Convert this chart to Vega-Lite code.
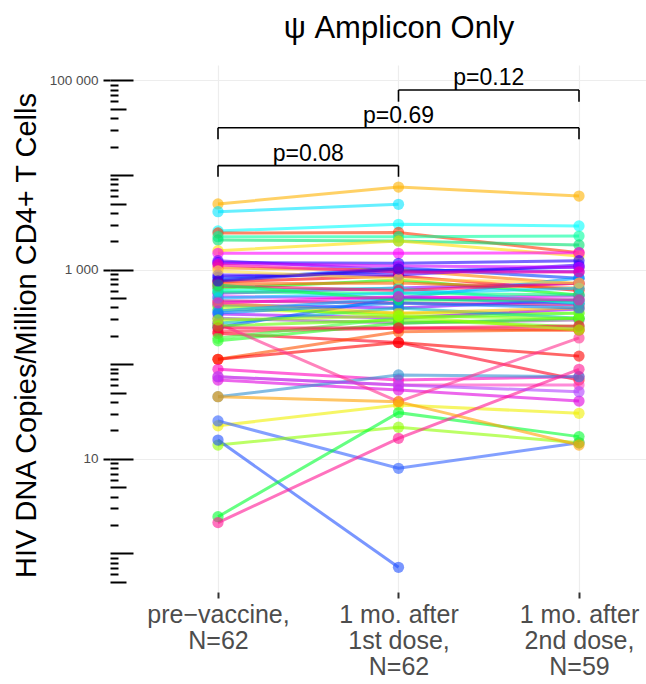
{
"$schema": "https://vega.github.io/schema/vega-lite/v6.json",
"width": 536, "height": 527,
"autosize": {"type": "none"},
"padding": {"left": 110, "top": 65, "right": 0, "bottom": 92},
"background": "white",
"config": {"view": {"stroke": null}, "font": "Liberation Sans"},
"title": {"text": "ψ Amplicon Only", "fontSize": 31, "font": "Liberation Sans", "fontWeight": "normal", "color": "#000000", "anchor": "middle", "frame": "group", "dx": 21, "dy": 31, "offset": 27, "baseline": "alphabetic"},
"data": {"values": [
{"id":"S01","t":0,"v":4950},{"id":"S01","t":1,"v":7480},{"id":"S01","t":2,"v":6010},
{"id":"S02","t":0,"v":4100},{"id":"S02","t":1,"v":4910},
{"id":"S03","t":0,"v":2564},{"id":"S03","t":1,"v":3020},{"id":"S03","t":2,"v":2897},
{"id":"S04","t":0,"v":2443},{"id":"S04","t":1,"v":2472},{"id":"S04","t":2,"v":1514},
{"id":"S05","t":0,"v":2233},{"id":"S05","t":1,"v":2233},{"id":"S05","t":2,"v":2270},
{"id":"S06","t":0,"v":2061},{"id":"S06","t":1,"v":2011},{"id":"S06","t":2,"v":1824},
{"id":"S07","t":0,"v":1588},{"id":"S07","t":1,"v":2011},{"id":"S07","t":2,"v":1396},
{"id":"S08","t":0,"v":1490},{"id":"S08","t":1,"v":1490},{"id":"S08","t":2,"v":1514},
{"id":"S09","t":0,"v":1245},{"id":"S09","t":1,"v":993},{"id":"S09","t":2,"v":953},
{"id":"S10","t":0,"v":1186},{"id":"S10","t":1,"v":1169},{"id":"S10","t":2,"v":1245},
{"id":"S11","t":0,"v":1042},{"id":"S11","t":1,"v":993},{"id":"S11","t":2,"v":706},
{"id":"S12","t":0,"v":831},{"id":"S12","t":1,"v":953},{"id":"S12","t":2,"v":1069},
{"id":"S13","t":0,"v":778},{"id":"S13","t":1,"v":1050},{"id":"S13","t":2,"v":811},
{"id":"S14","t":0,"v":741},{"id":"S14","t":1,"v":858},{"id":"S14","t":2,"v":603},
{"id":"S15","t":0,"v":636},{"id":"S15","t":1,"v":778},{"id":"S15","t":2,"v":540},
{"id":"S16","t":0,"v":563},{"id":"S16","t":1,"v":641},{"id":"S16","t":2,"v":718},
{"id":"S17","t":0,"v":519},{"id":"S17","t":1,"v":502},{"id":"S17","t":2,"v":527},
{"id":"S18","t":0,"v":470},{"id":"S18","t":1,"v":445},{"id":"S18","t":2,"v":424},
{"id":"S19","t":0,"v":424},{"id":"S19","t":1,"v":394},{"id":"S19","t":2,"v":479},
{"id":"S20","t":0,"v":381},{"id":"S20","t":1,"v":346},{"id":"S20","t":2,"v":346},
{"id":"S21","t":0,"v":340},{"id":"S21","t":1,"v":308},{"id":"S21","t":2,"v":384},
{"id":"S22","t":0,"v":306},{"id":"S22","t":1,"v":273},{"id":"S22","t":2,"v":294},
{"id":"S23","t":0,"v":271},{"id":"S23","t":1,"v":394},{"id":"S23","t":2,"v":306},
{"id":"S24","t":0,"v":246},{"id":"S24","t":1,"v":502},{"id":"S24","t":2,"v":441},
{"id":"S25","t":0,"v":221},{"id":"S25","t":1,"v":240},{"id":"S25","t":2,"v":231},
{"id":"S26","t":0,"v":212},{"id":"S26","t":1,"v":170},{"id":"S26","t":2,"v":68.2},
{"id":"S27","t":0,"v":177},{"id":"S27","t":1,"v":271},{"id":"S27","t":2,"v":306},
{"id":"S28","t":0,"v":188},{"id":"S28","t":1,"v":308},{"id":"S28","t":2,"v":348},
{"id":"S29","t":0,"v":113},{"id":"S29","t":1,"v":221},{"id":"S29","t":2,"v":231},
{"id":"S30","t":0,"v":113},{"id":"S30","t":1,"v":170},{"id":"S30","t":2,"v":122},
{"id":"S31","t":0,"v":88.5},{"id":"S31","t":1,"v":68.2},{"id":"S31","t":2,"v":74},
{"id":"S32","t":0,"v":74},{"id":"S32","t":1,"v":60.4},{"id":"S32","t":2,"v":60.4},
{"id":"S33","t":0,"v":68.2},{"id":"S33","t":1,"v":53.5},{"id":"S33","t":2,"v":40.9},
{"id":"S34","t":0,"v":45.4},{"id":"S34","t":1,"v":77.1},{"id":"S34","t":2,"v":74},
{"id":"S35","t":0,"v":270},{"id":"S35","t":1,"v":40.3},{"id":"S35","t":2,"v":190},
{"id":"S36","t":0,"v":22.4},{"id":"S36","t":1,"v":37.2},{"id":"S36","t":2,"v":30.3},
{"id":"S37","t":0,"v":25.2},{"id":"S37","t":1,"v":7.96},{"id":"S37","t":2,"v":14.8},
{"id":"S38","t":0,"v":14.0},{"id":"S38","t":1,"v":21.6},{"id":"S38","t":2,"v":14.8},
{"id":"S39","t":0,"v":15.8},{"id":"S39","t":1,"v":0.714},
{"id":"S40","t":0,"v":2.45},{"id":"S40","t":1,"v":30.8},{"id":"S40","t":2,"v":17.2},
{"id":"S41","t":0,"v":2.12},{"id":"S41","t":1,"v":16.5},{"id":"S41","t":2,"v":88.5},
{"id":"S42","t":0,"v":45.4},{"id":"S42","t":1,"v":40.3},{"id":"S42","t":2,"v":14.0},
{"id":"S43","t":0,"v":74},{"id":"S43","t":1,"v":60.4},{"id":"S43","t":2,"v":51.3},
{"id":"S44","t":0,"v":706},{"id":"S44","t":1,"v":723},{"id":"S44","t":2,"v":636},
{"id":"S45","t":0,"v":603},{"id":"S45","t":1,"v":636},{"id":"S45","t":2,"v":441},
{"id":"S46","t":0,"v":879},{"id":"S46","t":1,"v":879},{"id":"S46","t":2,"v":1122},
{"id":"S47","t":0,"v":445},{"id":"S47","t":1,"v":346},{"id":"S47","t":2,"v":394},
{"id":"S48","t":0,"v":413},{"id":"S48","t":1,"v":324},{"id":"S48","t":2,"v":306},
{"id":"S49","t":0,"v":366},{"id":"S49","t":1,"v":502},{"id":"S49","t":2,"v":817},
{"id":"S50","t":0,"v":673},{"id":"S50","t":1,"v":603},{"id":"S50","t":2,"v":718},
{"id":"S51","t":0,"v":581},{"id":"S51","t":1,"v":563},{"id":"S51","t":2,"v":540},
{"id":"S52","t":0,"v":1169},{"id":"S52","t":1,"v":1094},{"id":"S52","t":2,"v":1059},
{"id":"S53","t":0,"v":348},{"id":"S53","t":1,"v":445},{"id":"S53","t":2,"v":394},
{"id":"S54","t":0,"v":254},{"id":"S54","t":1,"v":294},{"id":"S54","t":2,"v":250},
{"id":"S55","t":0,"v":242},{"id":"S55","t":1,"v":242},{"id":"S55","t":2,"v":254},
{"id":"S56","t":0,"v":502},{"id":"S56","t":1,"v":563},{"id":"S56","t":2,"v":636},
{"id":"S57","t":0,"v":1122},{"id":"S57","t":1,"v":946},{"id":"S57","t":2,"v":946},
{"id":"S58","t":0,"v":294},{"id":"S58","t":1,"v":324},{"id":"S58","t":2,"v":231},
{"id":"S59","t":0,"v":969},{"id":"S59","t":1,"v":798},{"id":"S59","t":2,"v":723},
{"id":"S60","t":0,"v":690},{"id":"S60","t":1,"v":479},{"id":"S60","t":2,"v":479},
{"id":"S61","t":0,"v":760},{"id":"S61","t":1,"v":1016},
{"id":"S62","t":0,"v":445},{"id":"S62","t":1,"v":519},{"id":"S62","t":2,"v":479}
]},
"layer": [
{
"mark": {"type": "line", "strokeWidth": 3, "opacity": 0.6},
"encoding": {
"x": {"field": "t", "type": "quantitative", "scale": {"domain": [-0.5983, 2.3712], "nice": false, "zero": false},
"axis": {"values": [0, 1, 2], "labelExpr": "datum.value == 0 ? ['pre−vaccine,', 'N=62'] : datum.value == 1 ? ['1 mo. after', '1st dose,', 'N=62'] : ['1 mo. after', '2nd dose,', 'N=59']", "labelFontSize": 25, "labelColor": "#4D4D4D", "labelLineHeight": 26, "labelPadding": 4, "labelOverlap": false, "labelFlush": false, "tickSize": 6, "tickColor": "#333333", "tickWidth": 2, "domain": false, "grid": true, "gridColor": "#EDEDED", "gridWidth": 1.2, "title": null}},
"y": {"field": "v", "type": "quantitative", "scale": {"type": "log", "domain": [0.3917, 145800], "nice": false},
"axis": {"orient": "left", "values": [10, 1000, 100000], "labelExpr": "datum.value == 100000 ? '100 000' : datum.value == 1000 ? '1 000' : '10'", "labelFontSize": 13.5, "labelColor": "#4D4D4D", "labelPadding": 5, "tickSize": 7, "tickColor": "#000000", "tickWidth": 2, "domain": false, "grid": true, "gridColor": "#EDEDED", "gridWidth": 1.2, "title": "HIV DNA Copies/Million CD4+ T Cells", "titleFontSize": 29, "titleFontWeight": "normal", "titleColor": "#000000", "titlePadding": 8, "titleY": 270}},
"color": {"field": "id", "type": "nominal", "legend": null, "scale": {
"domain": ["S01","S02","S03","S04","S05","S06","S07","S08","S09","S10","S11","S12","S13","S14","S15","S16","S17","S18","S19","S20","S21","S22","S23","S24","S25","S26","S27","S28","S29","S30","S31","S32","S33","S34","S35","S36","S37","S38","S39","S40","S41","S42","S43","S44","S45","S46","S47","S48","S49","S50","S51","S52","S53","S54","S55","S56","S57","S58","S59","S60","S61","S62"],
"range": ["#FFB300","#00E5FF","#00FFFF","#FF3300","#00FFA0","#00E070","#FFE000","#FF00FF","#6A00FF","#2000FF","#FF8000","#0000FF","#0040FF","#FF0000","#00FF00","#9000FF","#E000FF","#C00080","#8000FF","#C0FF00","#A000FF","#9060A0","#00C0C0","#0060FF","#FF2040","#FF0020","#20FF20","#40FF40","#FF5000","#FF0000","#FF00C0","#FF40C0","#E000E0","#3090D0","#FF3090","#F0F000","#3060FF","#90FF00","#2050FF","#00FF30","#FF1493","#FFA000","#B040FF","#FF6000","#00FFD0","#4000FF","#FFC000","#80FF00","#00A0FF","#FF0060","#00FF80","#D000FF","#0080FF","#60FF00","#FF0040","#00D0FF","#FF00A0","#A0FF00","#FFE040","#00FF50","#3000E0","#FF00D0"]}}
}
},
{
"mark": {"type": "circle", "size": 127, "opacity": 0.6},
"encoding": {
"x": {"field": "t", "type": "quantitative", "scale": {"domain": [-0.5983, 2.3712], "nice": false, "zero": false}, "axis": null},
"y": {"field": "v", "type": "quantitative", "scale": {"type": "log", "domain": [0.3917, 145800], "nice": false},
"axis": {"orient": "left", "offset": -8, "values": [0.6,0.7,0.8,0.9,2,3,4,6,7,8,9,20,30,40,60,70,80,90,200,300,400,600,700,800,900,2000,3000,4000,6000,7000,8000,9000,20000,30000,40000,60000,70000,80000,90000], "tickSize": 8, "tickWidth": 2, "tickColor": "#000000", "labels": false, "domain": false, "grid": false, "title": null}},
"color": {"field": "id", "type": "nominal", "legend": null}
}
},
{
"data": {"values": [
{"x": 0, "x2": 1, "y": 12600, "y2": 12600},
{"x": 0, "x2": 0, "y": 12600, "y2": 9600},
{"x": 1, "x2": 1, "y": 12600, "y2": 9600},
{"x": 0, "x2": 2, "y": 31700, "y2": 31700},
{"x": 0, "x2": 0, "y": 31700, "y2": 23900},
{"x": 2, "x2": 2, "y": 31700, "y2": 23900},
{"x": 1, "x2": 2, "y": 79350, "y2": 79350},
{"x": 1, "x2": 1, "y": 79350, "y2": 59700},
{"x": 2, "x2": 2, "y": 79350, "y2": 59700}
]},
"mark": {"type": "rule", "strokeWidth": 1.6, "color": "#000000"},
"encoding": {
"x": {"field": "x", "type": "quantitative", "scale": {"domain": [-0.5983, 2.3712], "nice": false, "zero": false}, "axis": null},
"x2": {"field": "x2"},
"y": {"field": "y", "type": "quantitative", "scale": {"type": "log", "domain": [0.3917, 145800], "nice": false},
"axis": {"orient": "left", "offset": -16, "values": [0.5, 5, 50, 500, 5000, 50000], "tickSize": 16, "tickWidth": 2, "tickColor": "#000000", "labels": false, "domain": false, "grid": false, "title": null}},
"y2": {"field": "y2"}
}
},
{
"data": {"values": [
{"x": 0.5, "y": 12600, "label": "p=0.08"},
{"x": 1, "y": 31700, "label": "p=0.69"},
{"x": 1.5, "y": 79350, "label": "p=0.12"}
]},
"mark": {"type": "text", "fontSize": 23, "dy": -5, "baseline": "alphabetic", "align": "center", "color": "#000000"},
"encoding": {
"x": {"field": "x", "type": "quantitative", "scale": {"domain": [-0.5983, 2.3712], "nice": false, "zero": false}, "axis": null},
"y": {"field": "y", "type": "quantitative", "scale": {"type": "log", "domain": [0.3917, 145800], "nice": false},
"axis": {"orient": "left", "offset": -23, "values": [1, 10, 100, 1000, 10000, 100000], "tickSize": 23, "tickWidth": 2, "tickColor": "#000000", "labels": false, "domain": false, "grid": false, "title": null}},
"text": {"field": "label", "type": "nominal"}
}
}
],
"resolve": {"axis": {"x": "independent", "y": "independent"}}
}
